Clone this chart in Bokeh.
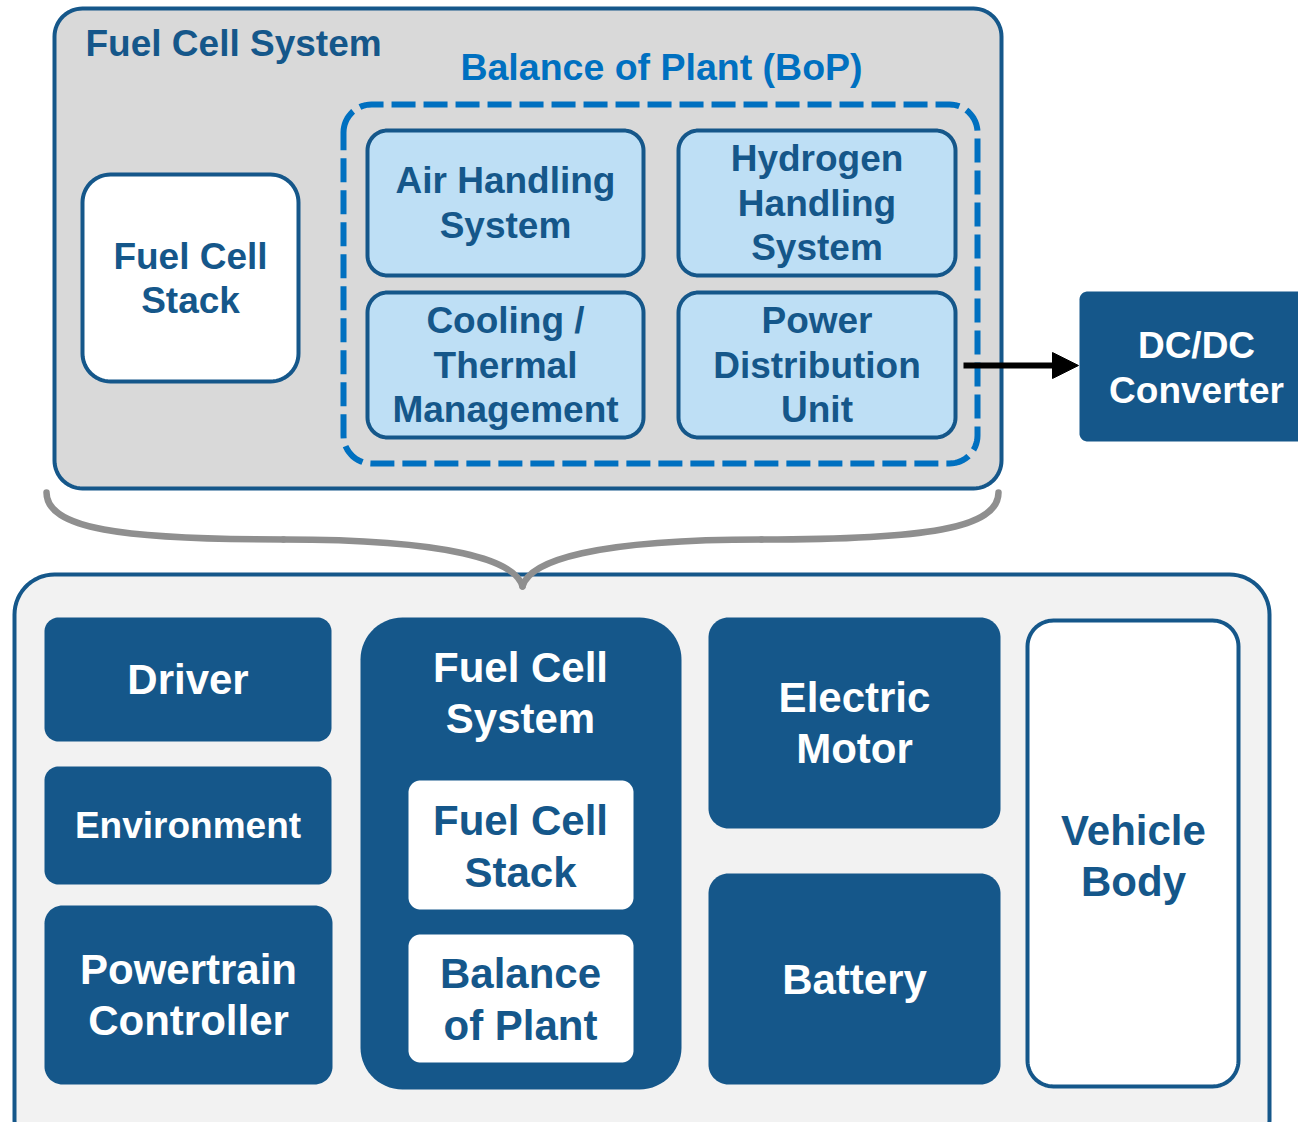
import numpy as np
from bokeh.plotting import figure
from bokeh.models import Range1d, Arrow, NormalHead
from bokeh.core.properties import value
from bokeh.embed import file_html
from bokeh.resources import INLINE

# ---- text content ----
system_title = "Fuel Cell System"
bop_title = "Balance of Plant (BoP)"
stack_label = ["Fuel Cell", "Stack"]
bop_labels = [["Air Handling", "System"],
              ["Hydrogen", "Handling", "System"],
              ["Cooling /", "Thermal", "Management"],
              ["Power", "Distribution", "Unit"]]
converter_label = ["DC/DC", "Converter"]
vehicle_labels = [["Driver"], ["Environment"], ["Powertrain", "Controller"],
                  ["Electric", "Motor"], ["Battery"]]
fcs_label = ["Fuel Cell", "System"]
fcs_inner_labels = [["Fuel Cell", "Stack"], ["Balance", "of Plant"]]
body_label = ["Vehicle", "Body"]

# ---- colours ----
DARK = "#15578A"
LIGHT = "#BEDFF5"
GRAY = "#D9D9D9"
PALE = "#F2F2F2"
DASHC = "#0070C0"
BRACE = "#8F8F8F"
FONT = value("Liberation Sans")

W, H = 1298, 1122
p = figure(width=W, height=H, x_range=Range1d(0, W), y_range=Range1d(H, 0),
           output_backend="svg", toolbar_location=None,
           x_axis_location=None, y_axis_location=None, min_border=0)
p.grid.visible = False
p.outline_line_color = None
p.background_fill_color = "white"


def rrect(x0, y0, x1, y1, r, n=16):
    xs, ys = [], []
    for cx, cy, a0 in [(x0 + r, y0 + r, np.pi), (x1 - r, y0 + r, 1.5 * np.pi),
                       (x1 - r, y1 - r, 0.0), (x0 + r, y1 - r, 0.5 * np.pi)]:
        t = np.linspace(a0, a0 + np.pi / 2, n)
        xs.extend(cx + r * np.cos(t))
        ys.extend(cy + r * np.sin(t))
    return xs, ys


def box(x0, y0, x1, y1, r, fill, line=None, lw=4, dash="solid"):
    xs, ys = rrect(x0, y0, x1, y1, r)
    p.patch(xs, ys, fill_color=fill if fill else None, fill_alpha=1 if fill else 0,
            line_color=line, line_width=lw if line else 0, line_dash=dash,
            line_join="round")


def label(lines, cx, cy, spacing, size, color, align="center"):
    n = len(lines)
    ys = [cy + (i - (n - 1) / 2) * spacing for i in range(n)]
    p.text(x=[cx] * n, y=ys, text=lines, text_font=FONT, text_font_style="bold",
           text_font_size=f"{size}px", text_color=color, text_align=align,
           text_baseline="alphabetic")


# ---- top: fuel cell system ----
box(54, 8, 1001, 488, 28, GRAY, DARK, 4)
label([system_title], 85, 43, 0, 37, DARK, align="left")
label([bop_title], 661, 66, 0, 37.5, DASHC)
box(82, 174, 298, 381, 28, "white", DARK, 4)
label(stack_label, 190, 278, 44, 37, DARK)
box(343, 104, 977, 463, 28, None, DASHC, 6, "24 8")
bop_boxes = [(367, 130, 643, 275), (678, 130, 955, 275),
             (367, 292, 643, 437), (678, 292, 955, 437)]
for (x0, y0, x1, y1), lines in zip(bop_boxes, bop_labels):
    box(x0, y0, x1, y1, 20, LIGHT, DARK, 4)
    label(lines, (x0 + x1) / 2, (y0 + y1) / 2, 44.5, 37, DARK)

# DC/DC converter + arrow
box(1079, 291, 1330, 441, 8, DARK, None)
label(converter_label, 1196, 367, 45, 37, "white")
p.add_layout(Arrow(end=NormalHead(size=26, fill_color="black", line_color="black"),
                   x_start=963, y_start=365, x_end=1078, y_end=365,
                   line_width=6, line_color="black"))

# ---- bottom: vehicle ----
box(14, 574, 1269, 1160, 40, PALE, DARK, 4)
dark_boxes = [(44, 617, 331, 741, 14), (44, 766, 331, 884, 14), (44, 905, 332, 1084, 18),
              (708, 617, 1000, 828, 20), (708, 873, 1000, 1084, 20)]
sizes = [42, 37, 42, 42, 42]
for (x0, y0, x1, y1, r), lines, s in zip(dark_boxes, vehicle_labels, sizes):
    box(x0, y0, x1, y1, r, DARK, None)
    label(lines, (x0 + x1) / 2, (y0 + y1) / 2, 51, s, "white")

box(360, 617, 681, 1089, 42, DARK, None)
label(fcs_label, 520, 692, 51, 42, "white")
for (y0, y1), lines in zip([(780, 909), (934, 1062)], fcs_inner_labels):
    box(408, y0, 633, y1, 12, "white", None)
    label(lines, 520, (y0 + y1) / 2 + 1, 52, 42, DARK)

box(1027, 620, 1238, 1086, 26, "white", DARK, 4)
label(body_label, 1133, 855, 51, 42, DARK)

# brace (drawn on top so its tip overlaps the vehicle frame)
p.bezier(x0=[46, 283, 522, 761], y0=[492, 539, 586, 539],
         x1=[283, 522, 761, 998], y1=[539, 586, 539, 492],
         cx0=[46, 450, 529, 925], cy0=[528, 539, 560, 539],
         cx1=[120, 515, 594, 998], cy1=[539, 560, 539, 528],
         line_color=BRACE, line_width=6.5, line_cap="round")

open("out.html", "w").write(file_html(p, INLINE))
